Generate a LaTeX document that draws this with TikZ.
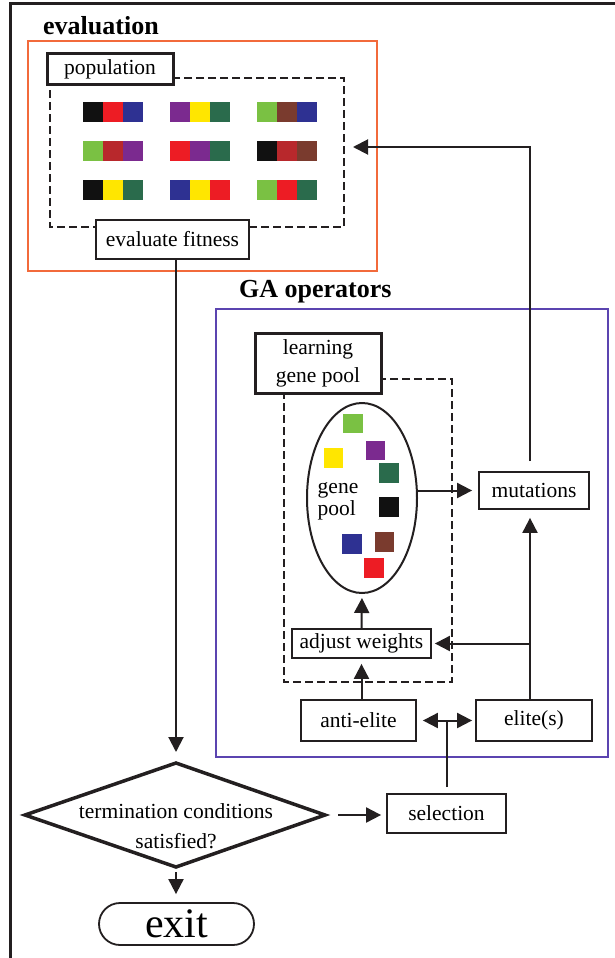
\documentclass[tikz,border=0pt]{standalone}
\usepackage{fontspec}
\setmainfont{Liberation Serif}
\usetikzlibrary{arrows.meta,shapes.geometric,shapes.misc,calc}
\definecolor{cblack}{HTML}{111111}
\definecolor{cred}{HTML}{ED1C24}
\definecolor{cblue}{HTML}{2E3192}
\definecolor{cpurple}{HTML}{7B2A8F}
\definecolor{cyellow}{HTML}{FFE600}
\definecolor{cdkgreen}{HTML}{2A6B4C}
\definecolor{cltgreen}{HTML}{7AC143}
\definecolor{cbrown}{HTML}{7A3B2E}
\definecolor{cdkred}{HTML}{B8282C}
\definecolor{corange}{HTML}{F26A3B}
\definecolor{cviolet}{HTML}{5B44B0}
\definecolor{cline}{HTML}{231F20}
\tikzset{
  lbl/.style={font=\fontsize{21.5}{25}\selectfont},
  ttl/.style={font=\fontsize{26}{30}\selectfont\bfseries, anchor=base west, inner sep=0},
  plainbox/.style={lbl, draw=cline, line width=1.8pt, fill=white, rectangle, inner sep=0},
  thickbox/.style={lbl, draw=cline, line width=3pt, fill=white, rectangle, inner sep=0},
  dashbox/.style={draw=cline, line width=1.8pt, dash pattern=on 8pt off 4pt},
  arr/.style={draw=cline, line width=2pt, -{Triangle[length=15pt,width=15pt]}},
  arrtwo/.style={draw=cline, line width=2pt, {Triangle[length=15pt,width=15pt]}-{Triangle[length=15pt,width=15pt]}},
  conn/.style={draw=cline, line width=2pt},
  sq/.style={minimum size=19.5pt, inner sep=0, draw=none, rectangle},
}
\begin{document}
\begin{tikzpicture}[x=1pt,y=-1pt]
\useasboundingbox (0,0) rectangle (615,958);
\fill[white] (0,0) rectangle (615,958);
% outer frame (partial)
\draw[cline, line width=3pt] (10,958) -- (10,4) -- (615,4);

% ---------------- evaluation ----------------
\node[ttl] (evtitle) at (43,35) {evaluation};
\draw[corange, line width=1.8pt] (28,41) rectangle (377,271);
\draw[dashbox] (50,78) rectangle (344,227);
\coordinate (dashR) at (344,147);
\node[thickbox, minimum width=126pt, minimum height=30pt] (pop) at (110,69) {population};
\node[plainbox, minimum width=153pt, minimum height=39pt] (eval) at (172.5,239.5) {evaluate fitness};

% population chromosomes
\def\chrom#1#2#3#4#5{%
  \node[sq, fill=#3] at (#1+10,#2+9.75) {};
  \node[sq, fill=#4] at (#1+30,#2+9.75) {};
  \node[sq, fill=#5] at (#1+50,#2+9.75) {};}
\chrom{83}{102}{cblack}{cred}{cblue}
\chrom{170}{102}{cpurple}{cyellow}{cdkgreen}
\chrom{257}{102}{cltgreen}{cbrown}{cblue}
\chrom{83}{141}{cltgreen}{cdkred}{cpurple}
\chrom{170}{141}{cred}{cpurple}{cdkgreen}
\chrom{257}{141}{cblack}{cdkred}{cbrown}
\chrom{83}{180}{cblack}{cyellow}{cdkgreen}
\chrom{170}{180}{cblue}{cyellow}{cred}
\chrom{257}{180}{cltgreen}{cred}{cdkgreen}

% ---------------- GA operators ----------------
\node[ttl] (gatitle) at (239,297) {GA operators};
\draw[cviolet, line width=1.8pt] (216,309) rectangle (608,757);
\draw[dashbox] (284,379) rectangle (452,682);
\node[thickbox, minimum width=126pt, minimum height=60pt, align=center, font=\fontsize{21.5}{28}\selectfont] (lgp) at (318,363) {learning\\gene pool};

\node[ellipse, draw=cline, line width=2pt, fill=white, minimum width=110pt, minimum height=190pt, inner sep=0] (gp) at (362,498) {};
\node[lbl, align=left, inner sep=0, font=\fontsize{21.5}{22}\selectfont] (gptext) at (338,501) {gene\\pool};
\node[sq, fill=cltgreen] at (353,423.5) {};
\node[sq, fill=cyellow] at (333.5,458) {};
\node[sq, fill=cpurple] at (375.5,450.5) {};
\node[sq, fill=cdkgreen] at (389,473) {};
\node[sq, fill=cblack] at (389,507) {};
\node[sq, fill=cblue] at (352,544) {};
\node[sq, fill=cbrown] at (384.5,542) {};
\node[sq, fill=cred] at (374,568) {};

\node[plainbox, minimum width=110pt, minimum height=37pt] (mut) at (534,490.5) {mutations};
\node[plainbox, minimum width=139pt, minimum height=29pt] (adj) at (361.5,643.5) {adjust weights};
\node[plainbox, minimum width=115pt, minimum height=41pt] (anti) at (358.5,720.5) {anti-elite};
\node[plainbox, minimum width=116pt, minimum height=41pt] (elite) at (534,720.5) {elite(s)};
\coordinate (ret) at (530,147);

% ---------------- termination ----------------
\coordinate (dtop) at (176,763);
\coordinate (dbot) at (176,867);
\coordinate (dleft) at (25,815);
\coordinate (dright) at (325,815);
\draw[cline, line width=3.5pt, line join=miter, fill=white] (dtop) -- (dright) -- (dbot) -- (dleft) -- cycle;
\node[lbl, align=center, inner sep=0, font=\fontsize{21.5}{30}\selectfont] (term) at (176,826) {termination conditions\\satisfied?};
\node[plainbox, minimum width=119pt, minimum height=39pt] (sel) at (446.5,813.5) {selection};
\node[rounded rectangle, draw=cline, line width=1.8pt, minimum width=155pt, minimum height=42pt, inner sep=0, font=\fontsize{42}{44}\selectfont] (exit) at (176.5,924) {exit};

% ---------------- connectors ----------------
\draw[arr, shorten >=11pt] (eval.south -| dtop) -- (dtop);
\draw[arr, shorten <=5pt, shorten >=8pt] (dbot) -- (exit.north -| dbot);
\draw[arr, shorten <=13pt, shorten >=5pt] (dright) -- (sel.west |- dright);
\draw[conn, shorten <=6pt] (sel.north) -- (sel.north |- anti.east);
\draw[arrtwo, shorten <=6pt, shorten >=3pt] (anti.east) -- (elite.west);
\draw[arr, shorten >=8pt] (elite.north -| ret) -- (mut.south -| ret);
\draw[arr, shorten >=3pt] (ret |- adj.east) -- (adj.east);
\draw[arr, shorten >=5pt] (anti.north -| adj.south) -- (adj.south);
\draw[arr, shorten >=4pt] (adj.north) -- (gp.south);
\draw[arr, shorten >=6pt] (mut.west -| gp.east) -- (mut.west);
\draw[arr, shorten <=10pt, shorten >=9pt] (mut.north -| ret) -- (ret) -- (dashR);
\end{tikzpicture}
\end{document}
